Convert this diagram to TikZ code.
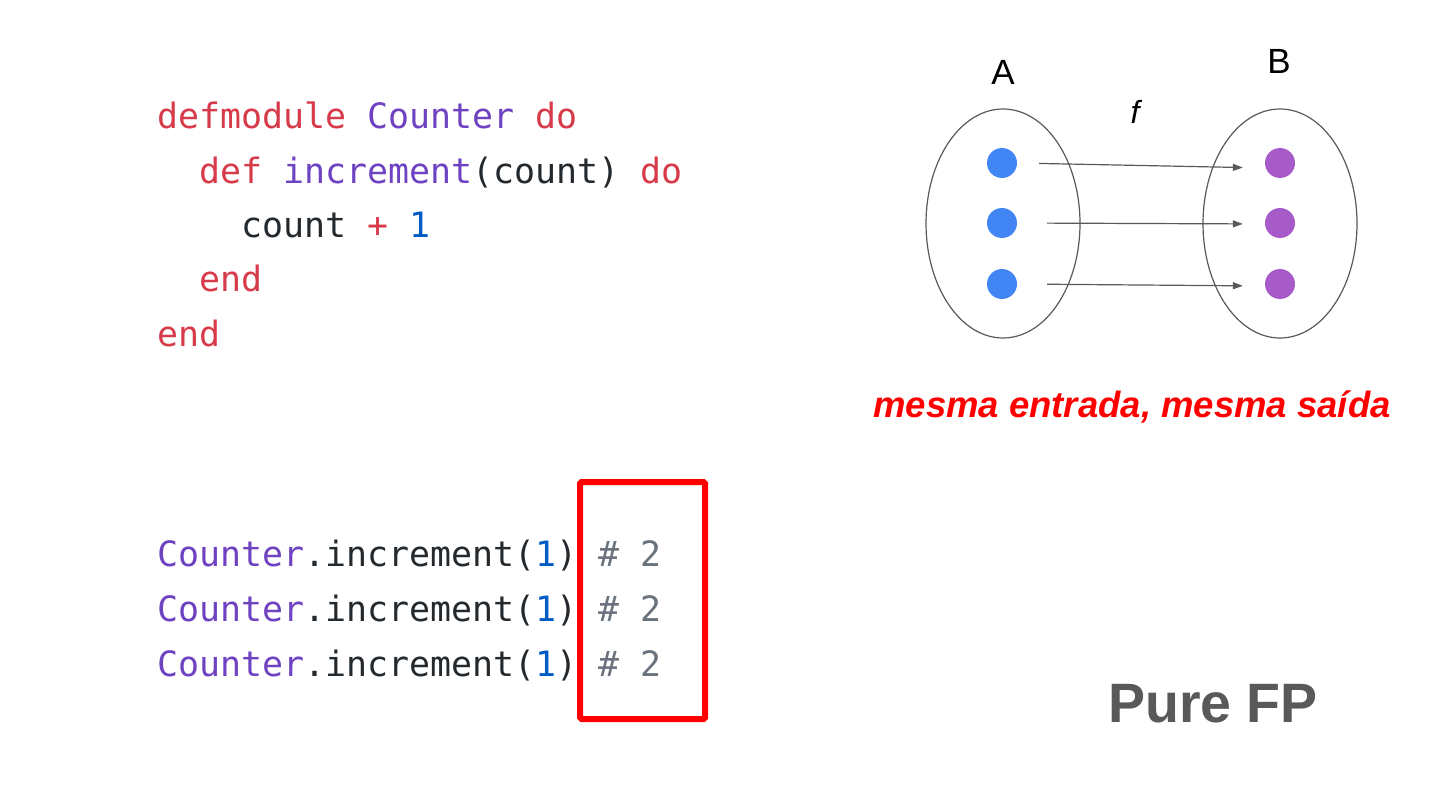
\documentclass[tikz,border=0pt]{standalone}
\usepackage{fontspec}
\setmainfont{Liberation Sans}
\setmonofont{DejaVu Sans Mono}
\usetikzlibrary{positioning,arrows.meta,shapes.geometric}
\definecolor{fpKeyword}{HTML}{D73A49}
\definecolor{fpModule}{HTML}{6F42C1}
\definecolor{fpNumber}{HTML}{005CC5}
\definecolor{fpPlain}{HTML}{24292E}
\definecolor{fpComment}{HTML}{6A737D}
\definecolor{fpBlue}{HTML}{4285F4}
\definecolor{fpPurple}{HTML}{A65BC8}
\definecolor{fpLine}{HTML}{595959}
\definecolor{fpRed}{HTML}{FF0000}
\definecolor{fpTitle}{HTML}{595959}

\newcommand{\codekw}[1]{\textcolor{fpKeyword}{#1}}
\newcommand{\codefn}[1]{\textcolor{fpModule}{#1}}
\newcommand{\codenum}[1]{\textcolor{fpNumber}{#1}}
\newcommand{\codecmt}[1]{\textcolor{fpComment}{#1}}

\tikzset{
  codeline/.style={anchor=base west, inner sep=0pt, text=fpPlain,
    font=\ttfamily\fontsize{34.9}{42}\selectfont},
  setoval/.style={draw=fpLine, ellipse, line width=1.2pt, inner sep=0pt,
    minimum width=154pt, minimum height=229pt},
  dotA/.style={circle, fill=fpBlue, minimum size=30pt, inner sep=0pt},
  dotB/.style={circle, fill=fpPurple, minimum size=30pt, inner sep=0pt},
  setlabel/.style={font=\fontsize{35}{40}\selectfont, inner sep=0pt},
  maparrow/.style={draw=fpLine, line width=1.2pt,
    -{Triangle[length=10pt,width=7pt]}}
}

\begin{document}
\begin{tikzpicture}[x=1pt,y=-1pt]
    \useasboundingbox (0,0) rectangle (1440,810);
    \fill[white] (0,0) rectangle (1440,810);
    % module definition
    \node[codeline] (mod) at (157,129) {\codekw{defmodule} \codefn{Counter} \codekw{do}};
    \node[codeline] (fun) at (199,184) {\codekw{def} \codefn{increment}(count) \codekw{do}};
    \node[codeline] (body) at (241,238) {count \codekw{+} \codenum{1}};
    \node[codeline] (endfun) at (199,292) {\codekw{end}};
    \node[codeline] (endmod) at (157,346) {\codekw{end}};
    % calls
    \foreach \i/\y in {1/566,2/621,3/676}
      \node[codeline] (call\i) at (157,\y)
        {\codefn{Counter}.increment(\codenum{1}) \codecmt{\# 2}};
    \node[draw=fpRed, line width=6pt, rounded corners=1.5pt, inner sep=0pt,
      minimum width=125pt, minimum height=237pt] (resultbox) at (642.5,600.5) {};
    % sets A and B
    \node[setoval] (setA) at (1003,223.5) {};
    \node[setoval] (setB) at (1280,223.5) {};
    \node[setlabel, anchor=base] (labA) at (1003,85) {A};
    \node[setlabel, anchor=base] (labB) at (1279,74) {B};
    \node[setlabel, font=\itshape\fontsize{32}{36}\selectfont] (labf) at (1135,112) {f};
    \foreach \i/\y in {1/163,2/223,3/284} {
      \node[dotA] (a\i) at (1002,\y) {};
      \node[dotB] (b\i) at (1280,\y) {};
    }
    \foreach \i/\s/\dy in {1/22/-5,2/30/-1,3/30/-2}
      \draw[maparrow, shorten <=\s pt, shorten >=22pt] (a\i.east) -- ([yshift=\dy pt]b\i.west);
    \node[text=fpRed, font=\bfseries\itshape\fontsize{36.5}{42}\selectfont,
      anchor=base, inner sep=0pt] (caption) at (1132,417) {mesma entrada, mesma saída};
    \node[text=fpTitle, font=\bfseries\fontsize{55.5}{64}\selectfont,
      anchor=base west, inner sep=0pt] (title) at (1108,722) {Pure FP};
  \end{tikzpicture}
\end{document}
